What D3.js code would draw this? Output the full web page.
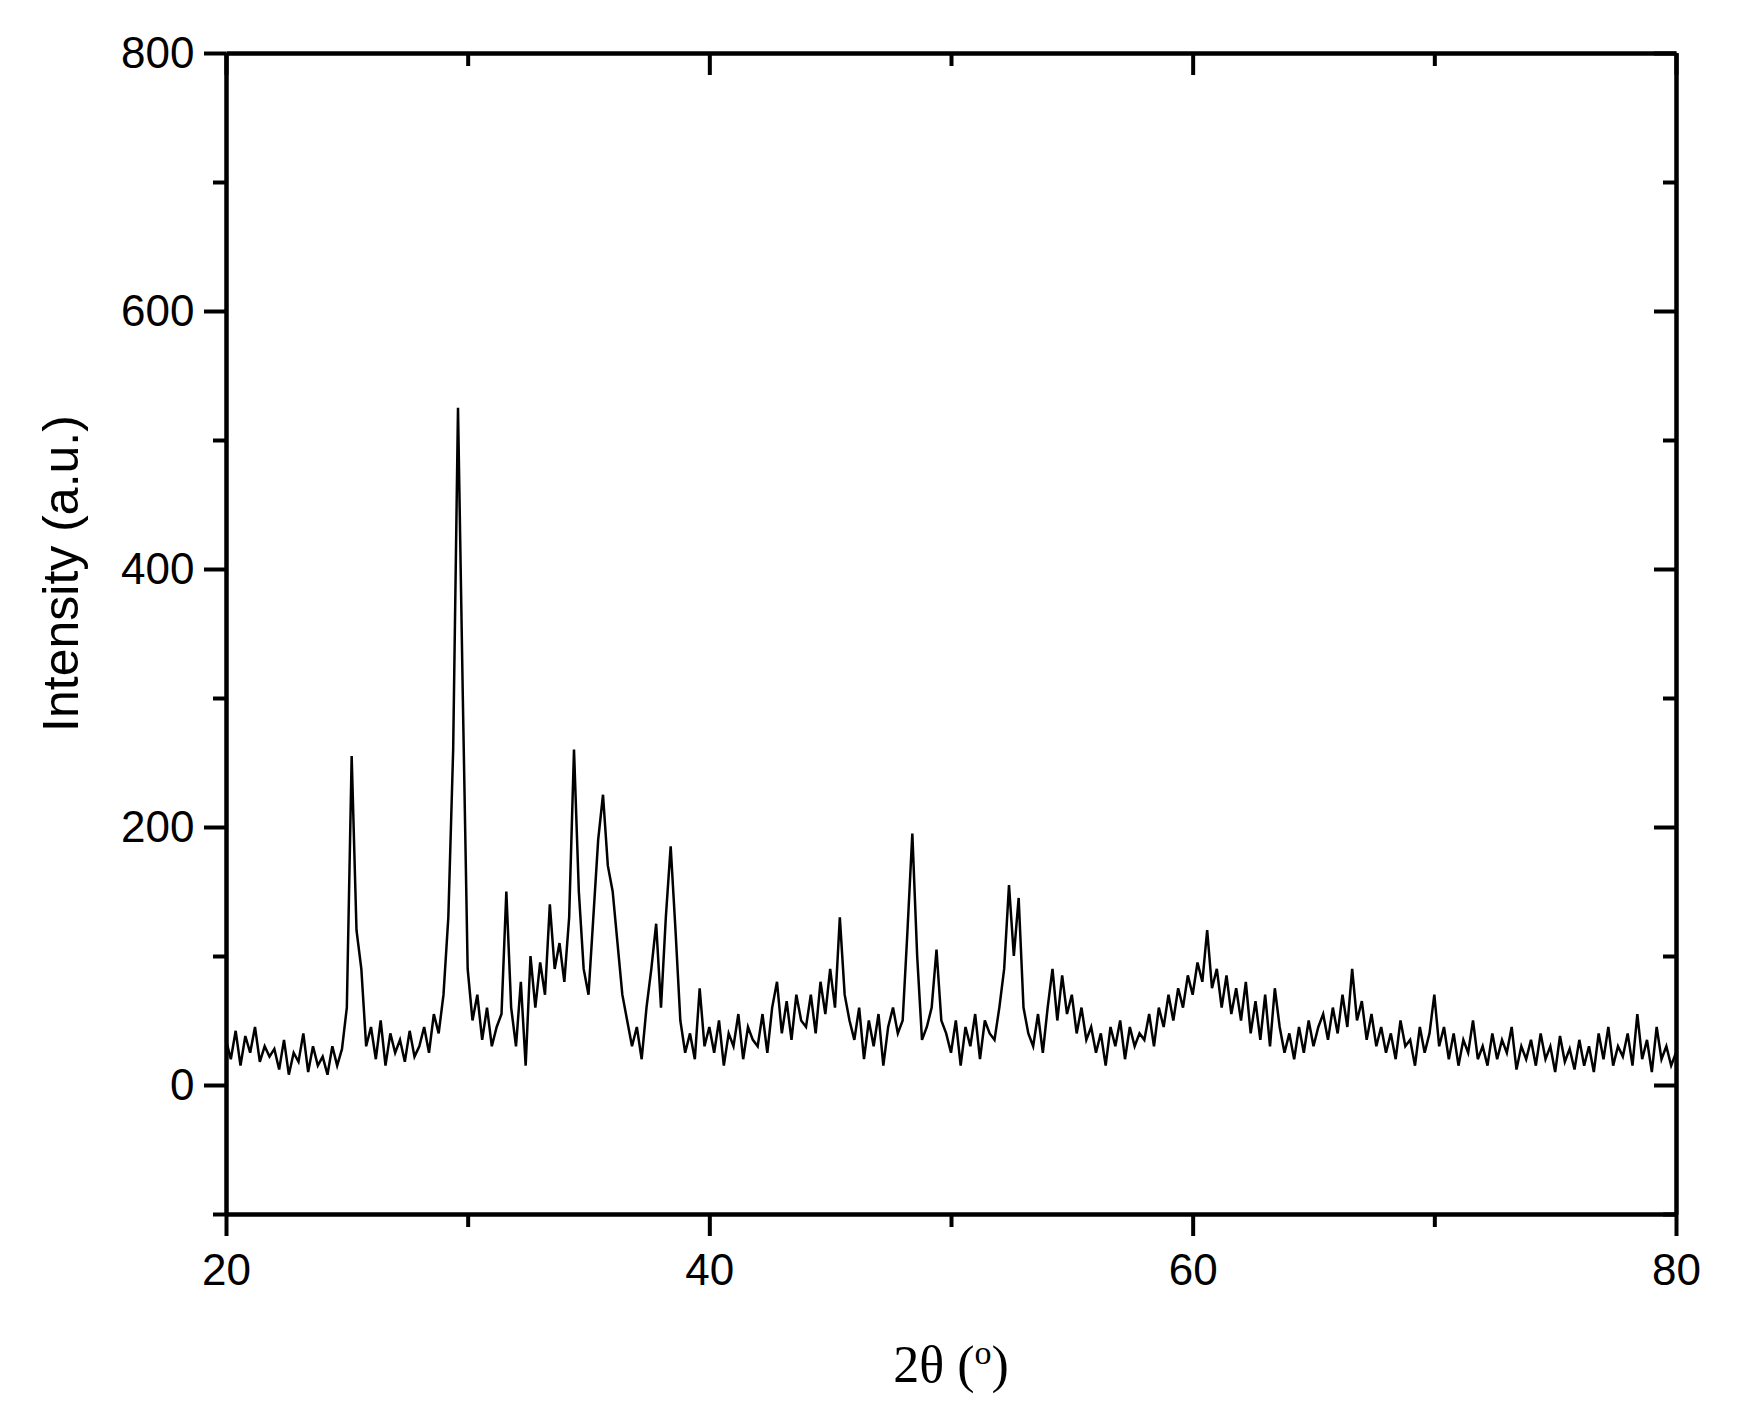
<!DOCTYPE html><html><head><meta charset="utf-8"><script src="https://cdn.jsdelivr.net/npm/d3@7"></script>
<style>body{margin:0;background:#fff}</style></head><body><svg id="c" width="1764" height="1408"></svg>
<script>
const xStart=20, xStep=0.2;
const intensity=[
35,20,42,15,38,25,45,18,30,22,
28,12,35,8,25,18,40,10,30,15,
22,8,30,15,28,60,255,120,90,30,
45,20,50,15,40,25,35,18,42,22,
30,45,25,55,40,70,130,260,525,300,
90,50,70,35,60,30,45,55,150,60,
30,80,15,100,60,95,70,140,90,110,
80,130,260,150,90,70,130,190,225,170,
150,110,70,50,30,45,20,60,90,125,
60,130,185,120,50,25,40,20,75,30,
45,25,50,15,40,30,55,20,45,35,
30,55,25,60,80,40,65,35,70,50,
45,70,40,80,55,90,60,130,70,50,
35,60,20,50,30,55,15,45,60,40,
50,120,195,100,35,45,60,105,50,40,
25,50,15,45,30,55,20,50,40,35,
60,90,155,100,145,60,40,30,55,25,
60,90,50,85,55,70,40,60,35,45,
25,40,15,45,30,50,20,45,30,40,
35,55,30,60,45,70,50,75,60,85,
70,95,80,120,75,90,60,85,55,75,
50,80,40,65,35,70,30,75,45,25,
40,20,45,25,50,30,45,55,35,60,
40,70,45,90,50,65,35,55,30,45,
25,40,20,50,30,35,15,45,25,40,
70,30,45,20,40,15,35,25,50,20,
30,15,40,20,35,25,45,12,30,20,
35,15,40,20,30,10,38,18,28,12,
35,15,30,10,40,20,45,15,30,22,
40,15,55,20,35,10,45,20,30,15,
25];
const xMajor=[20,40,60,80], xMinor=[30,50,70];
const yMajor=[0,200,400,600,800], yMinor=[-100,100,300,500,700];
const L=226,R=1676,T=53,B=1214;
const svg=d3.select("#c");
const x=d3.scaleLinear().domain([20,80]).range([L,R]);
const y=d3.scaleLinear().domain([-100,800]).range([B,T]);
const pts=intensity.map((v,i)=>[xStart+i*xStep,v]);
svg.append("path").datum(pts).attr("fill","none").attr("stroke","#000").attr("stroke-width",2.5)
 .attr("d",d3.line().x(d=>x(d[0])).y(d=>y(d[1])));
const font="Liberation Sans, Arial, sans-serif";
function ax(gen,tr,vals,size,lab){const g=svg.append("g").attr("transform",tr).call(gen.tickValues(vals).tickSize(size).tickSizeOuter(0).tickFormat(lab?d3.format("d"):""));
 g.select(".domain").attr("stroke-width",4);g.selectAll(".tick line").attr("stroke-width",4);
 g.selectAll("text").attr("font-family",font).attr("font-size",44).attr("fill","#000");return g;}
ax(d3.axisBottom(x),`translate(0,${B})`,xMajor,22,true).selectAll("text").attr("dy","1.05em");
ax(d3.axisBottom(x),`translate(0,${B})`,xMinor,13,false);
ax(d3.axisTop(x),`translate(0,${T})`,xMajor,-22,false);
ax(d3.axisTop(x),`translate(0,${T})`,xMinor,-13,false);
ax(d3.axisLeft(y),`translate(${L},0)`,yMajor,22,true).selectAll("text").attr("dx","-0.15em");
ax(d3.axisLeft(y),`translate(${L},0)`,yMinor,13,false);
ax(d3.axisRight(y),`translate(${R},0)`,yMajor,-22,false);
ax(d3.axisRight(y),`translate(${R},0)`,yMinor,-13,false);
svg.append("text").attr("x",(L+R)/2).attr("y",1382).attr("text-anchor","middle").attr("font-family","Liberation Serif, Times New Roman, serif").attr("font-size",52)
 .html('2θ (<tspan baseline-shift="super" font-size="34">o</tspan>)');
svg.append("text").attr("transform",`translate(78,${(T+B)/2-60}) rotate(-90)`).attr("text-anchor","middle").attr("font-family",font).attr("font-size",50).text("Intensity (a.u.)");
</script></body></html>
